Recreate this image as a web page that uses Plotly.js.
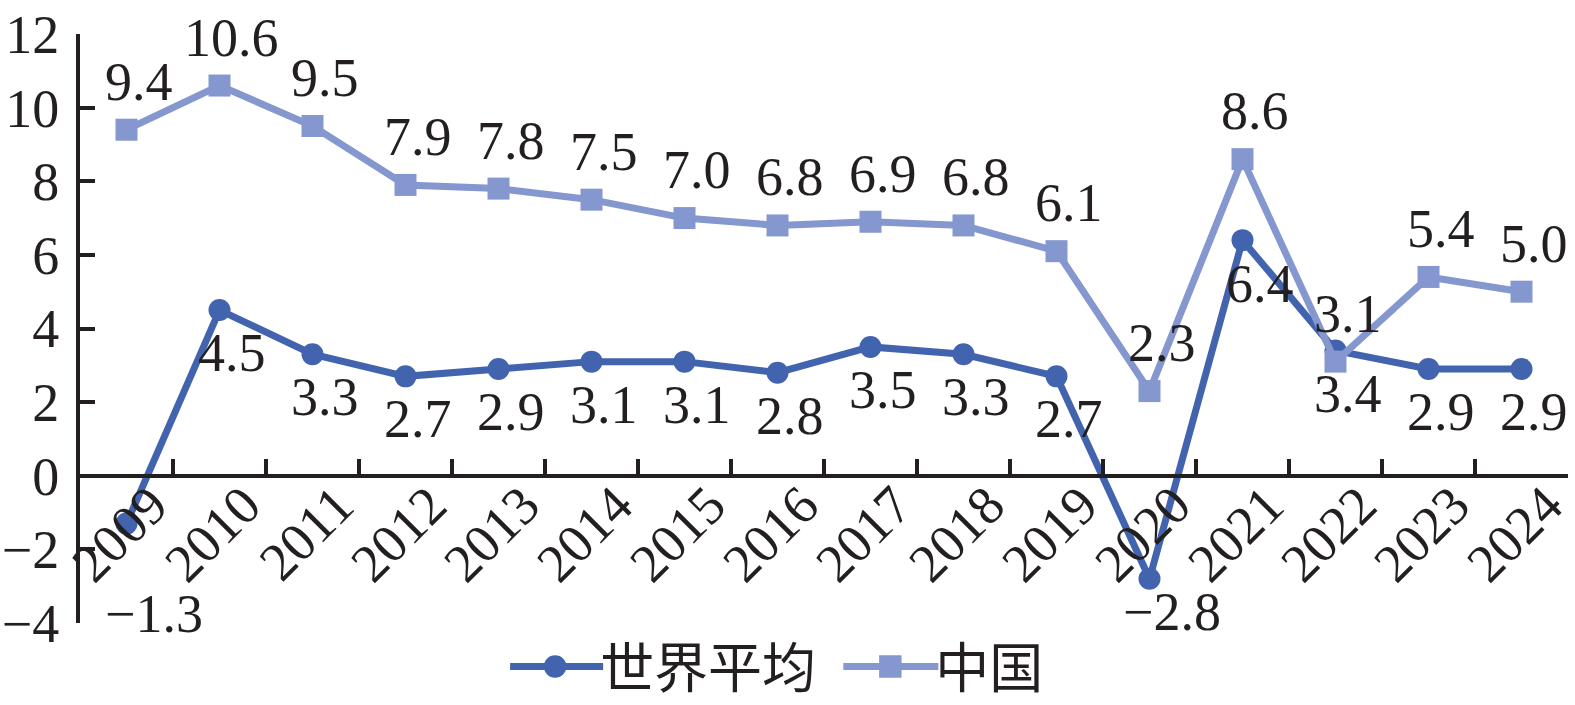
<!DOCTYPE html>
<html>
<head>
<meta charset="utf-8">
<script src="https://cdn.plot.ly/plotly-3.0.1.min.js"></script>
<style>
  html, body { margin: 0; padding: 0; background: #fff; }
  #chart { width: 1575px; height: 705px; }
  #err { position: absolute; top: 200px; left: 300px; color: red; font-size: 20px; }
</style>
</head>
<body>
<div id="chart"></div>
<div id="err"></div>
<script>
window.onerror = function(m) { document.getElementById('err').textContent += ' ' + m; };

// years and growth rates (%)
const years = ['2009','2010','2011','2012','2013','2014','2015','2016',
               '2017','2018','2019','2020','2021','2022','2023','2024'];
const world = [-1.3, 4.5, 3.3, 2.7, 2.9, 3.1, 3.1, 2.8, 3.5, 3.3, 2.7, -2.8, 6.4, 3.4, 2.9, 2.9];
const china = [9.4, 10.6, 9.5, 7.9, 7.8, 7.5, 7.0, 6.8, 6.9, 6.8, 6.1, 2.3, 8.6, 3.1, 5.4, 5.0];
const yTicks = [-4, -2, 0, 2, 4, 6, 8, 10, 12];

const serif = 'Liberation Serif, Times New Roman, serif';
const ink = '#231f20';
const fs = 54;

// label text, using a real minus sign
function fmt(v) {
  return v.toFixed(1).replace('-', '\u2212');
}

// a few labels were moved by hand in the original
const nudge = {'2009': [27, -90], '2020': [22, -33], '2021': [17, -44]};

const annotations = [];
years.forEach((yr, i) => {
  const n = nudge[yr] || [12, -43];
  annotations.push({
    xref: 'x', yref: 'y',
    x: i, y: world[i], text: fmt(world[i]),
    showarrow: false, xanchor: 'center', yanchor: 'middle',
    xshift: n[0], yshift: n[1],
    font: {family: serif, size: fs, color: ink}
  });
  annotations.push({
    xref: 'x', yref: 'y',
    x: i, y: china[i], text: fmt(china[i]),
    showarrow: false, xanchor: 'center', yanchor: 'middle',
    xshift: 12, yshift: 48,
    font: {family: serif, size: fs, color: ink}
  });
});

const worldTrace = {
  x: years, y: world,
  name: '世界平均\u00a0\u00a0',
  type: 'scatter',
  mode: 'lines+markers',
  line: {color: '#4263ae', width: 7},
  marker: {symbol: 'circle', size: 22, color: '#4263ae'},
  cliponaxis: false
};

const chinaTrace = {
  x: years, y: china,
  name: '中国',
  type: 'scatter',
  mode: 'lines+markers',
  line: {color: '#8497ce', width: 7},
  marker: {symbol: 'square', size: 22, color: '#8497ce'},
  cliponaxis: false
};

const layout = {
  width: 1575,
  height: 705,
  margin: {l: 80, r: 7, t: 34, b: 82, autoexpand: false},
  paper_bgcolor: '#fff',
  plot_bgcolor: '#fff',
  font: {family: serif, size: fs, color: ink},
  showlegend: true,
  legend: {
    orientation: 'h',
    x: 0.495, xanchor: 'center', xref: 'container',
    y: 0.054, yanchor: 'middle', yref: 'container',
    font: {family: 'Noto Sans CJK SC, sans-serif', size: 54, color: ink},
    itemwidth: 80
  },
  annotations: annotations,
  xaxis: {
    type: 'category',
    range: [-0.5, 15.5],
    anchor: 'free',
    position: 0.25,
    showline: true,
    linecolor: ink,
    linewidth: 4,
    ticks: 'inside',
    tickson: 'boundaries',
    ticklen: 15,
    tickwidth: 4,
    tickcolor: ink,
    tickangle: -45,
    ticklabelshift: 25,
    ticklabelstandoff: -26,
    tickfont: {family: serif, size: fs, color: ink},
    showgrid: false,
    zeroline: false,
    automargin: false,
    fixedrange: true
  },
  yaxis: {
    range: [-4, 12],
    tickvals: yTicks,
    ticktext: yTicks.map(v => String(v).replace('-', '\u2212')),
    showline: true,
    linecolor: ink,
    linewidth: 4,
    ticks: 'inside',
    ticklen: 15,
    tickwidth: 4,
    tickcolor: ink,
    ticklabelstandoff: 6,
    tickfont: {family: serif, size: fs, color: ink},
    showgrid: false,
    zeroline: false,
    automargin: false,
    fixedrange: true
  }
};

Plotly.newPlot('chart', [worldTrace, chinaTrace], layout, {displayModeBar: false, staticPlot: true})
  .then(gd => {
    // the original legend uses longer line samples and bigger markers
    gd.querySelectorAll('.legend .traces').forEach(g => {
      const line = g.querySelector('.legendlines path');
      const pt = g.querySelector('.legendpoints path');
      if (!line || !pt) return;
      const l = line.getCTM(), m = pt.getCTM();
      const cx = (m.e - l.e) / l.a;
      line.setAttribute('d', 'M' + (cx - 47) + ',0h95');
      pt.setAttribute('transform', (pt.getAttribute('transform') || '') + ' scale(1.4)');
    });
  })
  .catch(e => { document.getElementById('err').textContent += ' ' + e; });
</script>
</body>
</html>
